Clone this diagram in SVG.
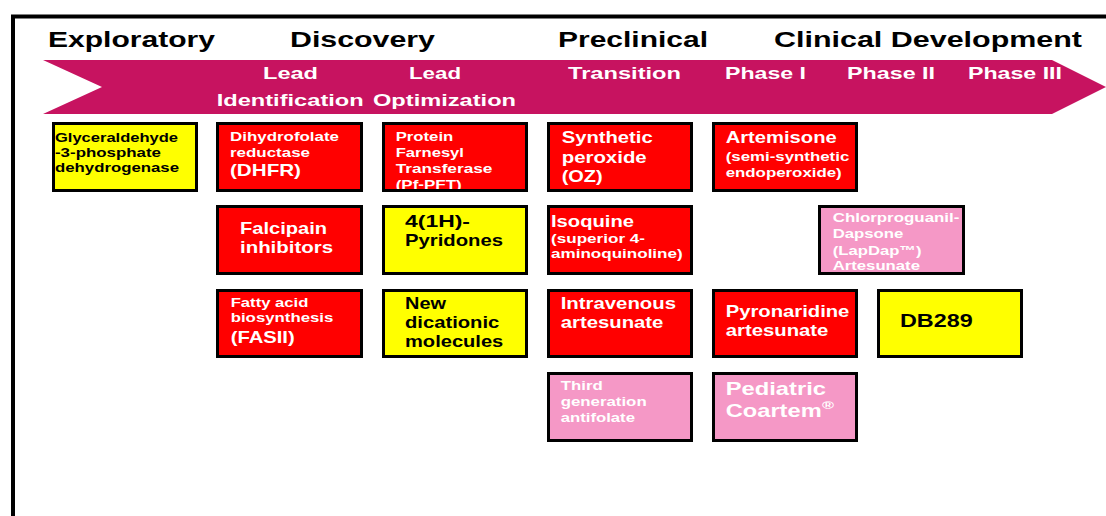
<svg xmlns="http://www.w3.org/2000/svg" width="1106" height="516" viewBox="0 0 1106 516">
<style>
text{font-family:"Liberation Sans",Arial,sans-serif;font-weight:bold}
.hd{font-size:22px;fill:#000}
.sub{font-size:17px;fill:#fff}
.s{font-size:13px}
.m{font-size:16.5px}
.l{font-size:18.5px}
.w{fill:#fff}
.k{fill:#000}
.red{fill:#FF0000}
.yel{fill:#FFFF00}
.pink{fill:#F598C6}
.bd{fill:none;stroke:#000;stroke-width:3}
</style>
<rect x="0" y="0" width="1106" height="516" fill="#fff"/>
<path d="M13,516 V16.5 H1106" fill="none" stroke="#000" stroke-width="4"/>
<g id="phase-arrow">
<path d="M43,60 H1052 L1106,87 L1052,114 H43 L102,87 Z" fill="#C71360"/>
<text class="hd" x="48" y="46.7" textLength="167" lengthAdjust="spacingAndGlyphs">Exploratory</text>
<text class="hd" x="290" y="46.7" textLength="145" lengthAdjust="spacingAndGlyphs">Discovery</text>
<text class="hd" x="558" y="46.7" textLength="150" lengthAdjust="spacingAndGlyphs">Preclinical</text>
<text class="hd" x="774" y="46.7" textLength="308" lengthAdjust="spacingAndGlyphs">Clinical Development</text>
<text class="sub" x="263" y="79" textLength="55" lengthAdjust="spacingAndGlyphs">Lead</text>
<text class="sub" x="216.7" y="105.7" textLength="147" lengthAdjust="spacingAndGlyphs">Identification</text>
<text class="sub" x="409" y="79" textLength="52" lengthAdjust="spacingAndGlyphs">Lead</text>
<text class="sub" x="373" y="105.7" textLength="143" lengthAdjust="spacingAndGlyphs">Optimization</text>
<text class="sub" x="568" y="79" textLength="113" lengthAdjust="spacingAndGlyphs">Transition</text>
<text class="sub" x="725" y="79" textLength="81" lengthAdjust="spacingAndGlyphs">Phase I</text>
<text class="sub" x="847" y="79" textLength="88" lengthAdjust="spacingAndGlyphs">Phase II</text>
<text class="sub" x="968" y="79" textLength="94" lengthAdjust="spacingAndGlyphs">Phase III</text>
</g>
<g id="connectors"></g>
<g id="gapdh">
<rect class="yel" x="53.5" y="123.5" width="143" height="67"/>
<text class="s k" x="55" y="141.5" textLength="123" lengthAdjust="spacingAndGlyphs">Glyceraldehyde</text>
<text class="s k" x="55" y="156.7" textLength="106" lengthAdjust="spacingAndGlyphs">-3-phosphate</text>
<text class="s k" x="55" y="171.7" textLength="124" lengthAdjust="spacingAndGlyphs">dehydrogenase</text>
<rect class="bd" x="53.5" y="123.5" width="143" height="67"/>
</g>
<g id="dhfr">
<rect class="red" x="217.5" y="123.5" width="144" height="67"/>
<text class="s w" x="230" y="141" textLength="109" lengthAdjust="spacingAndGlyphs">Dihydrofolate</text>
<text class="s w" x="230" y="156.7" textLength="80" lengthAdjust="spacingAndGlyphs">reductase</text>
<text class="m w" x="230" y="176" textLength="71" lengthAdjust="spacingAndGlyphs">(DHFR)</text>
<rect class="bd" x="217.5" y="123.5" width="144" height="67"/>
</g>
<g id="pfpft">
<rect class="red" x="383.5" y="123.5" width="143" height="67"/>
<text class="s w" x="395.7" y="141" textLength="57.6" lengthAdjust="spacingAndGlyphs">Protein</text>
<text class="s w" x="395.7" y="157.3" textLength="68.3" lengthAdjust="spacingAndGlyphs">Farnesyl</text>
<text class="s w" x="395.7" y="173.3" textLength="96.7" lengthAdjust="spacingAndGlyphs">Transferase</text>
<text class="s w" x="395.7" y="189" textLength="66" lengthAdjust="spacingAndGlyphs">(Pf-PFT)</text>
<rect class="bd" x="383.5" y="123.5" width="143" height="67"/>
</g>
<g id="oz">
<rect class="red" x="548.5" y="123.5" width="143" height="67"/>
<text class="m w" x="561.7" y="143.3" textLength="91" lengthAdjust="spacingAndGlyphs">Synthetic</text>
<text class="m w" x="561.7" y="162.7" textLength="85" lengthAdjust="spacingAndGlyphs">peroxide</text>
<text class="m w" x="561.7" y="181.7" textLength="41" lengthAdjust="spacingAndGlyphs">(OZ)</text>
<rect class="bd" x="548.5" y="123.5" width="143" height="67"/>
</g>
<g id="artemisone">
<rect class="red" x="713.5" y="123.5" width="143" height="67"/>
<text class="m w" x="725.7" y="143.3" textLength="111" lengthAdjust="spacingAndGlyphs">Artemisone</text>
<text class="s w" x="725.7" y="161" textLength="123.6" lengthAdjust="spacingAndGlyphs">(semi-synthetic</text>
<text class="s w" x="725.7" y="176.7" textLength="116" lengthAdjust="spacingAndGlyphs">endoperoxide)</text>
<rect class="bd" x="713.5" y="123.5" width="143" height="67"/>
</g>
<g id="falcipain">
<rect class="red" x="217.5" y="206.5" width="144" height="67"/>
<text class="m w" x="240" y="234" textLength="87" lengthAdjust="spacingAndGlyphs">Falcipain</text>
<text class="m w" x="240" y="253" textLength="93" lengthAdjust="spacingAndGlyphs">inhibitors</text>
<rect class="bd" x="217.5" y="206.5" width="144" height="67"/>
</g>
<g id="pyridones">
<rect class="yel" x="383.5" y="206.5" width="143" height="67"/>
<text class="m k" x="405" y="226.5" textLength="65" lengthAdjust="spacingAndGlyphs">4(1H)-</text>
<text class="m k" x="405" y="246" textLength="98" lengthAdjust="spacingAndGlyphs">Pyridones</text>
<rect class="bd" x="383.5" y="206.5" width="143" height="67"/>
</g>
<g id="isoquine">
<rect class="red" x="548.5" y="206.5" width="143" height="67"/>
<text class="m w" x="551" y="226.7" textLength="83" lengthAdjust="spacingAndGlyphs">Isoquine</text>
<text class="s w" x="551" y="243.3" textLength="94" lengthAdjust="spacingAndGlyphs">(superior 4-</text>
<text class="s w" x="551" y="258.3" textLength="131.7" lengthAdjust="spacingAndGlyphs">aminoquinoline)</text>
<rect class="bd" x="548.5" y="206.5" width="143" height="67"/>
</g>
<g id="lapdap">
<rect class="pink" x="819.5" y="206.5" width="144" height="67"/>
<text class="s w" x="832.7" y="222.3" textLength="126.7" lengthAdjust="spacingAndGlyphs">Chlorproguanil-</text>
<text class="s w" x="832.7" y="238.3" textLength="70.7" lengthAdjust="spacingAndGlyphs">Dapsone</text>
<text class="s w" x="832.7" y="255" textLength="89" lengthAdjust="spacingAndGlyphs">(LapDap™)</text>
<text class="s w" x="832.7" y="270" textLength="87.3" lengthAdjust="spacingAndGlyphs">Artesunate</text>
<rect class="bd" x="819.5" y="206.5" width="144" height="67"/>
</g>
<g id="fasii">
<rect class="red" x="217.5" y="290.5" width="144" height="66"/>
<text class="s w" x="230.7" y="306.7" textLength="77.7" lengthAdjust="spacingAndGlyphs">Fatty acid</text>
<text class="s w" x="230.7" y="322" textLength="102.7" lengthAdjust="spacingAndGlyphs">biosynthesis</text>
<text class="m w" x="230.7" y="343" textLength="64" lengthAdjust="spacingAndGlyphs">(FASII)</text>
<rect class="bd" x="217.5" y="290.5" width="144" height="66"/>
</g>
<g id="dicationic">
<rect class="yel" x="383.5" y="290.5" width="143" height="66"/>
<text class="m k" x="405" y="309.3" textLength="41" lengthAdjust="spacingAndGlyphs">New</text>
<text class="m k" x="405" y="328.3" textLength="94.3" lengthAdjust="spacingAndGlyphs">dicationic</text>
<text class="m k" x="405" y="346.7" textLength="98.3" lengthAdjust="spacingAndGlyphs">molecules</text>
<rect class="bd" x="383.5" y="290.5" width="143" height="66"/>
</g>
<g id="iv-artesunate">
<rect class="red" x="548.5" y="290.5" width="143" height="66"/>
<text class="m w" x="560.7" y="309.3" textLength="115.3" lengthAdjust="spacingAndGlyphs">Intravenous</text>
<text class="m w" x="560.7" y="328.3" textLength="102.7" lengthAdjust="spacingAndGlyphs">artesunate</text>
<rect class="bd" x="548.5" y="290.5" width="143" height="66"/>
</g>
<g id="pyronaridine">
<rect class="red" x="713.5" y="290.5" width="143" height="66"/>
<text class="m w" x="725.7" y="316.7" textLength="123.7" lengthAdjust="spacingAndGlyphs">Pyronaridine</text>
<text class="m w" x="725.7" y="336" textLength="102.7" lengthAdjust="spacingAndGlyphs">artesunate</text>
<rect class="bd" x="713.5" y="290.5" width="143" height="66"/>
</g>
<g id="db289">
<rect class="yel" x="878.5" y="290.5" width="143" height="66"/>
<text class="l k" x="900" y="326.7" textLength="72.7" lengthAdjust="spacingAndGlyphs">DB289</text>
<rect class="bd" x="878.5" y="290.5" width="143" height="66"/>
</g>
<g id="antifolate">
<rect class="pink" x="548.5" y="373.5" width="143" height="67"/>
<text class="s w" x="560.7" y="390" textLength="42" lengthAdjust="spacingAndGlyphs">Third</text>
<text class="s w" x="560.7" y="406" textLength="86" lengthAdjust="spacingAndGlyphs">generation</text>
<text class="s w" x="560.7" y="422.3" textLength="74.3" lengthAdjust="spacingAndGlyphs">antifolate</text>
<rect class="bd" x="548.5" y="373.5" width="143" height="67"/>
</g>
<g id="coartem">
<rect class="pink" x="713.5" y="373.5" width="143" height="67"/>
<text class="l w" x="725.7" y="395" textLength="100.3" lengthAdjust="spacingAndGlyphs">Pediatric</text>
<text class="l w" x="725.7" y="417.3" textLength="96" lengthAdjust="spacingAndGlyphs">Coartem</text>
<text class="w" x="822" y="409" font-size="11" textLength="12" lengthAdjust="spacingAndGlyphs">®</text>
<rect class="bd" x="713.5" y="373.5" width="143" height="67"/>
</g>
</svg>
